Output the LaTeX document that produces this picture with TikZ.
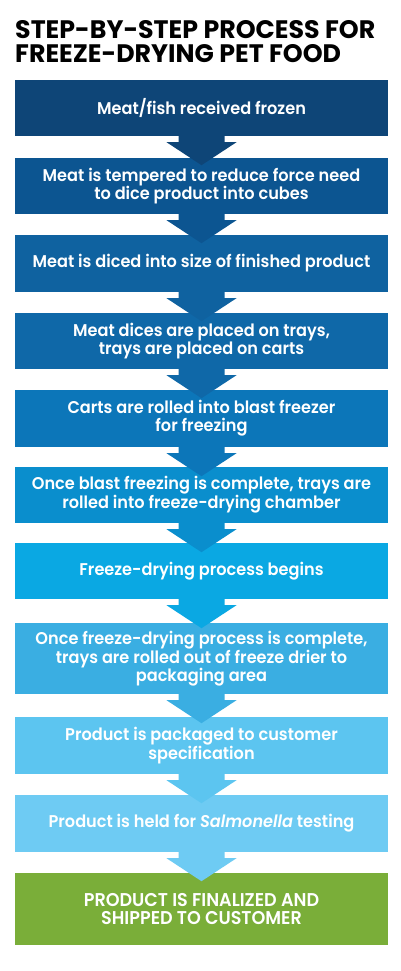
\documentclass[tikz,border=0pt]{standalone}
\usepackage{fontspec}
\setmainfont{Poppins}[UprightFont=* SemiBold, ItalicFont=* SemiBold Italic, BoldFont=* Bold, FakeStretch=0.95]
\newfontfamily\titlefont{Poppins Bold}
\definecolor{stepa}{HTML}{0E4577}
\definecolor{stepb}{HTML}{0C5591}
\definecolor{stepc}{HTML}{0F62A0}
\definecolor{stepd}{HTML}{0F68A8}
\definecolor{stepe}{HTML}{0C76B9}
\definecolor{stepf}{HTML}{0A8ECD}
\definecolor{stepg}{HTML}{0AA8E3}
\definecolor{steph}{HTML}{3AAEE2}
\definecolor{stepi}{HTML}{5CC5F0}
\definecolor{stepj}{HTML}{6ECBF3}
\definecolor{stepk}{HTML}{7AAE39}
\tikzset{
  stepbox/.style={fill=#1, text=white, minimum width=373pt, align=center,
    inner sep=0pt, font=\fontsize{17}{17.8}\selectfont},
  headline/.style={anchor=base west, inner sep=0pt, font=\titlefont\fontsize{25.3}{26}\selectfont},
}
\begin{document}
\begin{tikzpicture}[x=1pt,y=-1pt]
  \useasboundingbox[fill=white] (0,0) rectangle (400,971);
  \node[headline] (title1) at (15,39) {STEP-BY-STEP PROCESS FOR};
  \node[headline] (title2) at (15,63) {FREEZE-DRYING PET FOOD};
  \draw
    (201.5,108) node[stepbox=stepa, minimum height=56pt] (1){Meat/fish received frozen}
    (201.5,186) node[stepbox=stepb, minimum height=56pt] (2){Meat is tempered to reduce force need\\to dice product into cubes}
    (201.5,263.5) node[stepbox=stepc, minimum height=57pt] (3){Meat is diced into size of finished product}
    (201.5,341) node[stepbox=stepd, minimum height=56pt] (4){Meat dices are placed on trays,\\trays are placed on carts}
    (201.5,418.5) node[stepbox=stepe, minimum height=57pt] (5){Carts are rolled into blast freezer\\for freezing}
    (201.5,495) node[stepbox=stepf, minimum height=56pt] (6){Once blast freezing is complete, trays are\\rolled into freeze-drying chamber}
    (201.5,571) node[stepbox=stepg, minimum height=56pt] (7){Freeze-drying process begins}
    (201.5,658.5) node[stepbox=steph, minimum height=71pt] (8){Once freeze-drying process is complete,\\trays are rolled out of freeze drier to\\packaging area}
    (201.5,745.5) node[stepbox=stepi, minimum height=57pt] (9){Product is packaged to customer\\specification}
    (201.5,823.5) node[stepbox=stepj, minimum height=57pt] (10){Product is held for \textit{Salmonella} testing}
    (201.5,909) node[stepbox=stepk, minimum height=72pt, font=\fontsize{18.5}{18.5}\selectfont] (11){PRODUCT IS FINALIZED AND\\SHIPPED TO CUSTOMER};
  \begin{scope}[shift={(1.5,0)}]
    \foreach \a/\b/\c in {1/2/stepa, 2/3/stepb, 3/4/stepc, 4/5/stepd, 5/6/stepe,
                          6/7/stepf, 7/8/stepg, 8/9/steph, 9/10/stepi, 10/11/stepj}
      \fill[\c] ([xshift=-23pt,yshift=1pt]\a.south) -- ++(0,7) -- ++(-12,0)
        -- ([yshift=-29pt]\a.south) -- ++(35,-23) -- ++(-12,0)
        -- ([xshift=23pt,yshift=1pt]\a.south) -- cycle;
  \end{scope}
\end{tikzpicture}
\end{document}
